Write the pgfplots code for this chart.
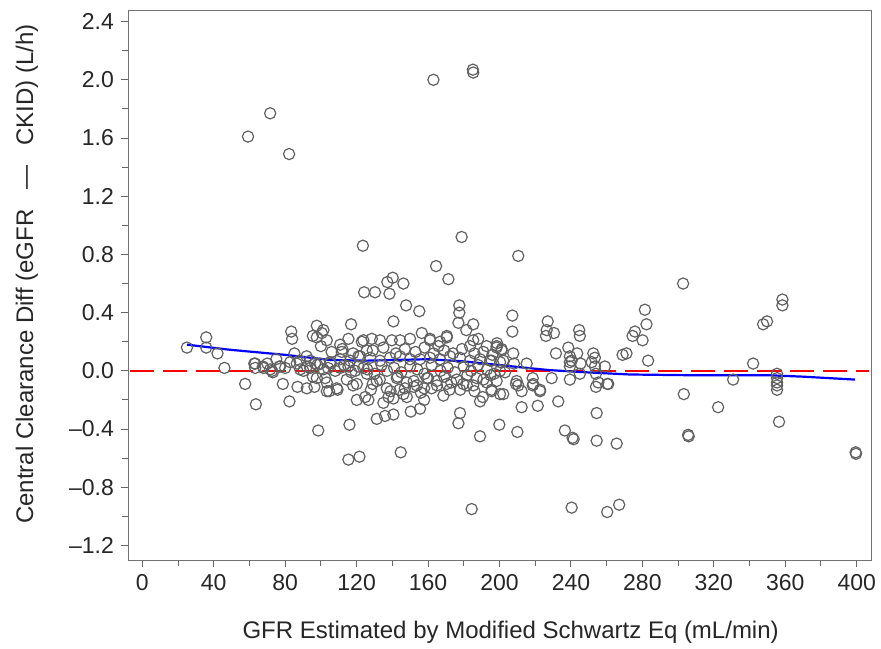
\documentclass[border=0pt]{standalone}
\usepackage{fontspec}
\setmainfont{Liberation Sans}
\usepackage{pgfplots}
\pgfplotsset{compat=1.18}

\begin{document}
\begin{tikzpicture}
\begin{axis}[
  scale only axis,
  width=371.5pt, height=275pt,
  xmin=-8, xmax=408, ymin=-1.30, ymax=2.48,
  axis line style={black!55},
  tick style={black!60, line width=0.5pt},
  tick align=outside, tick pos=left,
  major tick length=3.5pt, minor tick length=3pt,
  xtick={0,40,...,400},
  minor x tick num=1,
  ytick={-1.2,-0.8,-0.4,0,0.4,0.8,1.2,1.6,2.0,2.4},
  yticklabels={--1.2,--0.8,--0.4,0.0,0.4,0.8,1.2,1.6,2.0,2.4},
  minor y tick num=1,
  /pgf/number format/assume math mode=true,
  tick label style={font=\fontsize{11.5}{13}\selectfont, text=black!85},
  label style={font=\fontsize{12}{14}\selectfont, text=black!85},
  xlabel={GFR Estimated by Modified Schwartz Eq (mL/min)},
  ylabel={Central Clearance Diff (eGFR~~~—~~~CKID) (L/h)},
  xlabel style={at={(axis description cs:0.515,-0.131)}, anchor=center},
  ylabel style={at={(axis description cs:-0.136,0.52)}, anchor=center},
  clip=false,
]
% scatter of differences
\addplot[only marks, mark=o, mark size=2.8pt,
  mark options={draw=black!62, line width=0.6pt}] coordinates {
(25.0,0.16) (35.8,0.23) (35.8,0.16) (42.1,0.12) (46.0,0.02) (57.6,-0.09) (63.6,-0.23)
(62.7,0.05) (63.2,0.02) (67.5,0.03) (71.6,0.01) (73.1,-0.01) (76.8,0.03) (78.7,-0.09)
(82.4,-0.21) (83.4,0.27) (83.9,0.22) (85.2,0.12) (86.5,0.05) (86.9,-0.11) (92.1,-0.12)
(96.4,-0.11) (97.7,0.31) (95.5,0.24) (100.5,0.26) (100.0,0.17) (94.0,0.02) (90.2,0.00)
(95.5,-0.04) (103.3,-0.14) (102.4,-0.05)
(59.2,1.61) (71.6,1.77) (82.2,1.49) (163.0,2.00) (185.1,2.07) (185.3,2.05) (178.8,0.92)
(123.5,0.86) (210.5,0.79) (164.5,0.72) (171.4,0.63) (140.2,0.64) (137.2,0.61) (146.2,0.60)
(138.4,0.53) (130.3,0.54) (124.2,0.54) (147.7,0.45) (155.1,0.41) (140.6,0.34) (116.9,0.32)
(177.5,0.45) (177.5,0.40) (177.0,0.33) (185.3,0.32) (302.8,0.60)
(101.4,0.28) (97.7,0.23) (103.3,0.21) (115.4,0.22) (123.8,0.21) (128.5,0.22) (133.1,0.21)
(139.7,0.21) (144.3,0.21) (149.9,0.22) (156.5,0.26) (161.1,0.21) (165.8,0.17) (170.5,0.23)
(185.3,0.21) (183.5,0.17) (188.1,0.22) (192.8,0.17) (198.4,0.17) (201.2,0.15) (181.4,0.28)
(110.8,0.18) (111.7,0.13) (122.9,0.20) (125.7,0.14) (121.0,0.10) (161.1,0.22) (170.5,0.24)
(166.7,0.20)
(94.0,0.07) (99.6,0.05) (105.2,0.06) (110.8,0.08) (116.4,0.07) (122.0,0.10) (127.6,0.09)
(133.1,0.07) (138.7,0.09) (144.3,0.10) (149.9,0.08) (155.5,0.08) (161.1,0.09) (166.7,0.08)
(172.3,0.10) (177.9,0.09) (183.5,0.07) (189.1,0.08) (194.7,0.07) (200.3,0.06)
(97.7,-0.05) (103.3,-0.08) (108.9,-0.12) (114.5,-0.06) (120.1,-0.09) (125.7,-0.02)
(131.3,-0.07) (136.9,-0.12) (142.5,-0.05) (148.1,-0.08) (153.7,-0.10) (159.3,-0.05)
(164.9,-0.07) (170.5,-0.09) (176.1,-0.06) (181.7,-0.10) (187.2,-0.05) (192.8,-0.08)
(198.4,-0.07)
(104,0.02) (108,0.00) (113,0.04) (117,-0.01) (121,0.03) (126,0.01) (130,-0.02) (134,0.04)
(137,0.00) (141,0.02) (145,-0.01) (150,0.03) (154,0.01) (158,-0.02) (162,0.04) (167,0.00)
(171,0.02) (175,-0.01) (180,0.03) (184,0.00) (188,0.04) (193,0.01) (197,-0.02)
(106,0.13) (112,0.15) (118,0.12) (129,0.14) (135,0.16) (142,0.12) (147,0.15) (153,0.13)
(158,0.16) (163,0.12) (169,0.14) (174,0.12) (179,0.15) (186,0.12) (191,0.13) (196,0.11)
(104.6,-0.14) (109.3,-0.13) (98.5,-0.41) (116.0,-0.37) (120.1,-0.20) (126.6,-0.20)
(115.4,-0.61) (121.6,-0.59) (131.3,-0.33) (135.9,-0.31) (140.6,-0.30) (135.0,-0.22)
(137.8,-0.18) (144.7,-0.56) (150.3,-0.28) (155.5,-0.26) (157.8,-0.20) (157.8,-0.12)
(168.6,-0.17) (177.9,-0.29) (177.0,-0.36) (189.1,-0.45) (189.1,-0.21) (190.6,-0.18)
(195.6,-0.14) (184.4,-0.95) (146.2,-0.16) (148.1,-0.18) (144.0,-0.13) (185.3,-0.10)
(179.7,-0.09) (118,-0.10) (129,-0.09) (200.3,-0.16)
(124.8,-0.18) (140.6,-0.19) (162,-0.12) (152,-0.11) (172,-0.13)
(128,-0.13) (133,-0.06) (139,-0.14) (143,-0.04) (147,-0.12) (152,-0.07) (156,-0.15)
(160,-0.05) (165,-0.10) (169,-0.04) (173,-0.08) (178,-0.13) (182,-0.03) (186,-0.14)
(191,-0.06) (195,-0.03)
(70,0.05) (75,0.08) (80,0.02) (88,0.07) (92,0.10) (98,0.04)
(63.2,0.05) (67.9,0.02) (72.6,0.00) (77.2,0.03) (82.8,0.06) (88.4,0.01) (92.1,0.03)
(96.8,0.05) (101.4,0.01) (105.2,0.05) (110.8,0.02) (115.4,0.03) (119.2,0.00) (123.8,0.02)
(202.1,-0.16) (212.4,-0.14) (212.4,-0.25) (221.4,-0.24) (222.7,-0.14) (218.6,-0.10)
(232.9,-0.21) (199.9,-0.37) (210.0,-0.42) (236.6,-0.41) (240.9,-0.46) (241.5,-0.47)
(254.4,-0.29) (254.4,-0.48) (265.6,-0.50) (254.0,-0.11) (260.9,-0.09) (303.2,-0.16)
(322.4,-0.25) (305.6,-0.44) (305.9,-0.45) (356.5,-0.35) (399.4,-0.56) (399.6,-0.57)
(240.4,-0.94) (260.3,-0.97) (267.0,-0.92) (330.8,-0.06)
(207.2,0.38) (207.2,0.27) (227.0,0.34) (226.4,0.28) (230.5,0.26) (226.0,0.24) (244.6,0.28)
(245.0,0.24) (231.6,0.12) (238.5,0.16) (239.4,0.10) (240.4,0.07) (243.5,0.12) (245.4,0.05)
(252.5,0.12) (253.4,0.09) (251.6,0.06) (253.4,0.03) (259.0,0.03) (268.9,0.11) (271.1,0.12)
(274.5,0.24) (275.8,0.27) (280.1,0.21) (281.4,0.42) (282.3,0.32) (283.2,0.07) (215.2,0.05)
(198.6,0.19) (209.2,-0.09) (229.2,-0.05) (239.4,-0.06) (245.0,-0.02) (254.0,-0.02)
(255.3,-0.08) (260.3,-0.09)
(239.4,0.06) (239.4,0.03) (195.6,0.07) (198.4,0.16) (201.2,0.14) (202.1,0.07) (200.3,0.00)
(203.1,-0.01) (207.7,0.12) (208.1,0.05) (209.6,-0.07) (210.5,-0.10) (218.6,-0.05)
(218.9,-0.09) (222.7,-0.13) (195.6,-0.13)
(342.0,0.05) (347.6,0.32) (349.8,0.34) (358.4,0.49) (358.4,0.45) (355.4,-0.02)
(355.4,-0.05) (355.4,-0.08) (355.4,-0.10) (355.4,-0.13)
};
% reference line at zero
\addplot[red, line width=1.1pt, dash pattern=on 12pt off 4.5pt] coordinates {(-7,0) (407,0)};
% smoothed trend
\addplot[blue, line width=1.1pt] coordinates {
(25,0.18) (49,0.145) (80,0.11) (105,0.075) (125,0.07) (160,0.08) (180,0.065) (200,0.04)
(213,0.023) (228,0.005) (250,-0.011) (273,-0.025) (306,-0.03) (350,-0.03) (370,-0.04) (399,-0.06)
};
\coordinate (ll) at (rel axis cs:0,0);
\coordinate (ur) at (rel axis cs:1,1);
\end{axis}
\pgfresetboundingbox
\useasboundingbox ([shift={(-64pt,-44pt)}]ll) rectangle ([shift={(5pt,5pt)}]ur);
\end{tikzpicture}
\end{document}
